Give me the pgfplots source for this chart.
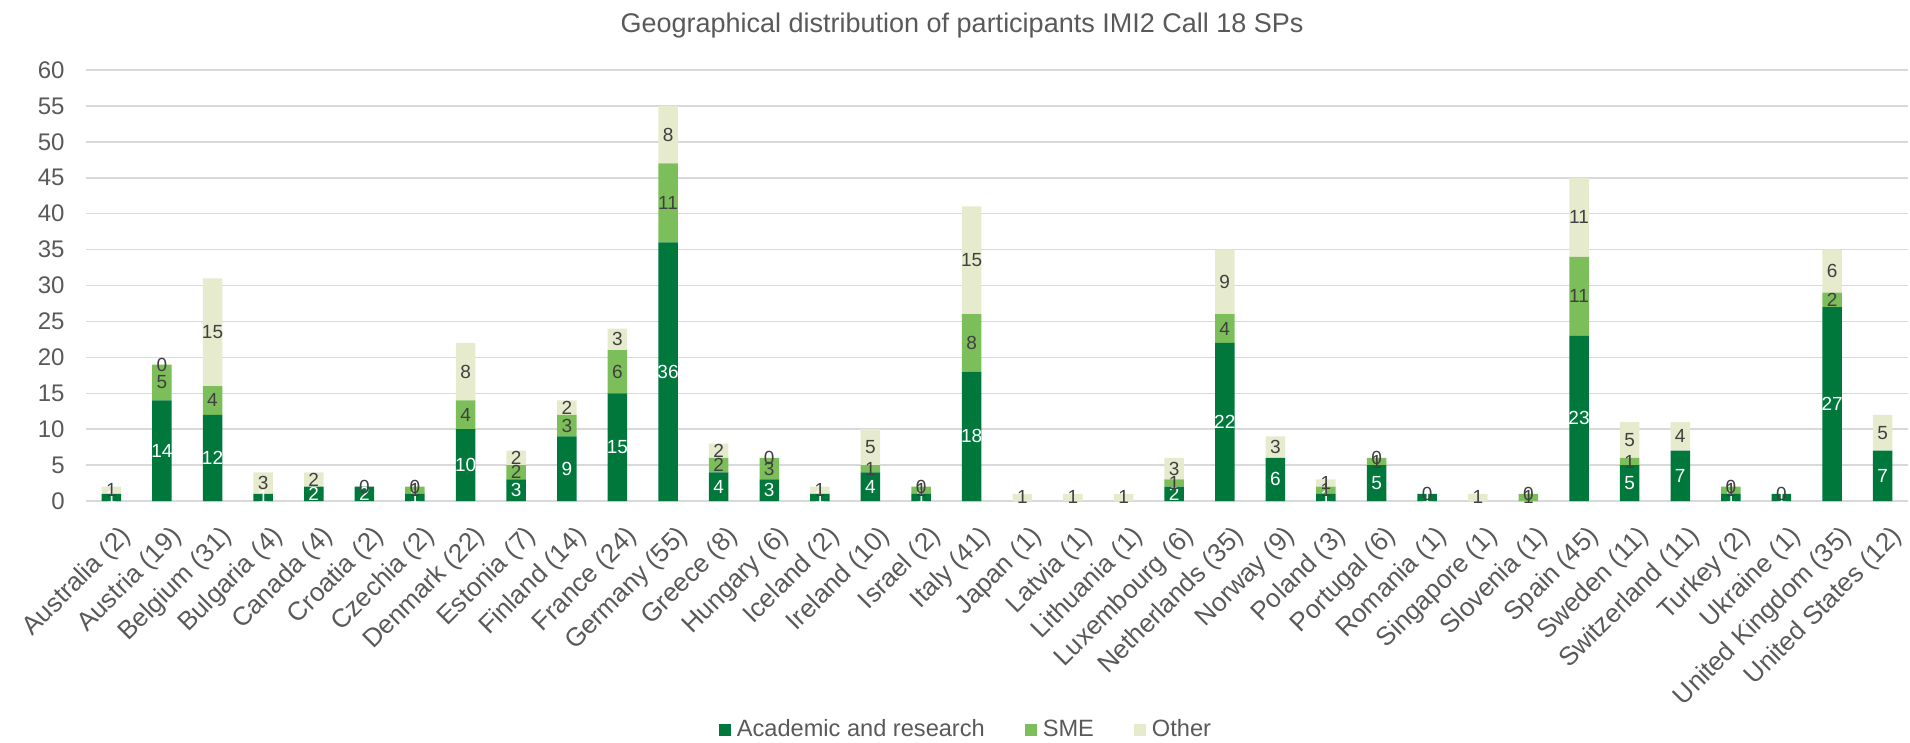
\documentclass[border=0pt]{standalone}
\usepackage{fontspec}
\setmainfont{Liberation Sans}
\usepackage{pgfplots}
\usepackage{pgfplotstable}
\pgfplotsset{compat=1.18}

\definecolor{acad}{RGB}{0,120,60}
\definecolor{sme}{RGB}{124,190,90}
\definecolor{other}{RGB}{230,235,205}
\definecolor{txtgray}{RGB}{89,89,89}
\definecolor{lblgray}{RGB}{64,64,64}
\definecolor{gridgray}{RGB}{217,217,217}

% idx = category position, acad / sme / other = participants per type
\pgfplotstableread{
idx acad sme other
0  1  0  1
1  14 5  0
2  12 4  15
3  1  0  3
4  2  0  2
5  2  0  0
6  1  1  0
7  10 4  8
8  3  2  2
9  9  3  2
10 15 6  3
11 36 11 8
12 4  2  2
13 3  3  0
14 1  0  1
15 4  1  5
16 1  1  0
17 18 8  15
18 0  0  1
19 0  0  1
20 0  0  1
21 2  1  3
22 22 4  9
23 6  0  3
24 1  1  1
25 5  1  0
26 1  0  0
27 0  0  1
28 0  1  0
29 23 11 11
30 5  1  5
31 7  0  4
32 1  1  0
33 1  0  0
34 27 2  6
35 7  0  5
}\geodata

\pgfplotsset{
  frame/.style={scale only axis, width=911pt, height=215.5pt,
    xmin=-0.5, xmax=35.5, ymin=0, ymax=60,
    /pgf/number format/assume math mode=true},
  nozero/.style={nodes near coords={\pgfmathfloatifflags{\pgfplotspointmeta}{0}{}{\pgfmathprintnumber{\pgfplotspointmeta}}}},
}

\begin{document}
\begin{tikzpicture}
\begin{axis}[
  frame,
  ybar stacked, bar width=9.75pt,
  ytick={0,5,...,60},
  xtick={0,...,35},
  xticklabels={Australia (2), Austria (19), Belgium (31), Bulgaria (4), Canada (4),
    Croatia (2), Czechia (2), Denmark (22), Estonia (7), Finland (14), France (24),
    Germany (55), Greece (8), Hungary (6), Iceland (2), Ireland (10), Israel (2),
    Italy (41), Japan (1), Latvia (1), Lithuania (1), Luxembourg (6), Netherlands (35),
    Norway (9), Poland (3), Portugal (6), Romania (1), Singapore (1), Slovenia (1),
    Spain (45), Sweden (11), Switzerland (11), Turkey (2), Ukraine (1),
    United Kingdom (35), United States (12)},
  xticklabel style={rotate=45, anchor=north east, inner sep=0pt, xshift=-5.5pt, yshift=-10.5pt,
    font=\fontsize{13}{15}\selectfont, text=txtgray},
  yticklabel style={font=\fontsize{12}{14}\selectfont, text=txtgray, inner sep=0pt, xshift=-10.5pt},
  axis line style={draw=none},
  tick style={draw=none},
  ymajorgrids, grid style={draw=gridgray, line width=0.75pt},
  clip=false,
  legend columns=3,
  legend style={at={(0.4835,-0.531)}, anchor=center, draw=none, fill=none,
    font=\fontsize{11.8}{13}\selectfont, text=txtgray,
    /tikz/every odd column/.append style={column sep=1pt},
    /tikz/every even column/.append style={column sep=18pt}},
  legend image code/.code={\fill[#1] (0pt,-3pt) rectangle (6pt,3pt);},
]
\addplot[fill=acad, draw=none] table[x=idx, y=acad] {\geodata};
\addlegendentry{Academic and research}
\addplot[fill=sme, draw=none] table[x=idx, y=sme] {\geodata};
\addlegendentry{SME}
\addplot[fill=other, draw=none] table[x=idx, y=other] {\geodata};
\addlegendentry{Other}
\node[anchor=base, font=\fontsize{13.5}{16}\selectfont, text=txtgray, yshift=18.5pt]
  at (axis description cs:0.4808,1) {Geographical distribution of participants IMI2 Call 18 SPs};
\end{axis}
% value labels, centred in each segment
\begin{axis}[
  frame, hide axis, clip=false,
  point meta=explicit,
  every node near coord/.append style={anchor=center, inner sep=0pt,
    font=\fontsize{9.5}{10}\selectfont},
]
\addplot[only marks, mark=none, nozero, every node near coord/.append style={text=white}]
  table[x=idx, y expr=\thisrow{acad}/2, meta=acad] {\geodata};
\addplot[only marks, mark=none, nozero, every node near coord/.append style={text=lblgray}]
  table[x=idx, y expr=\thisrow{acad}+\thisrow{sme}/2, meta=sme] {\geodata};
\addplot[only marks, mark=none, nodes near coords, every node near coord/.append style={text=lblgray}]
  table[x=idx, y expr=\thisrow{acad}+\thisrow{sme}+\thisrow{other}/2, meta=other] {\geodata};
\end{axis}
\pgfresetboundingbox
\path (-43pt,-121pt) rectangle (912pt,250.5pt);
\end{tikzpicture}
\end{document}
